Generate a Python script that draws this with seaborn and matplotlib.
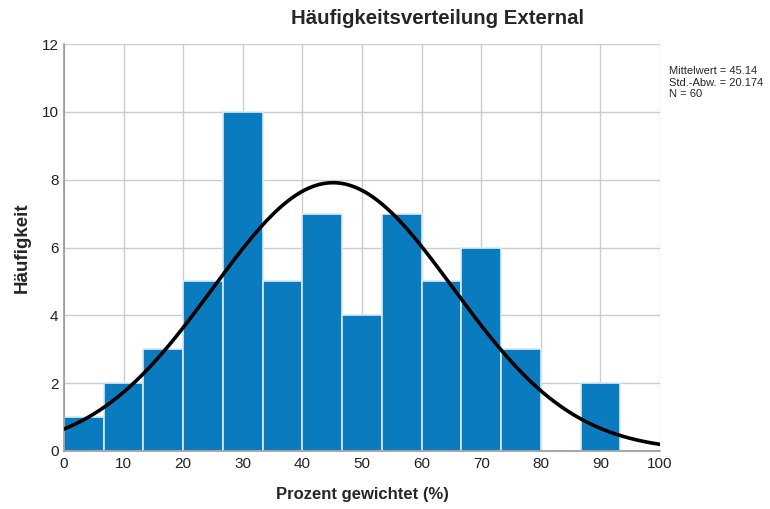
import numpy as np
import pandas as pd
import matplotlib
matplotlib.use("Agg")
import matplotlib.pyplot as plt
import seaborn as sns

# Histogram bins (percent weighted) and frequencies
bin_edges = [0, 6.667, 13.333, 20, 26.667, 33.333, 40, 46.667, 53.333,
             60, 66.667, 73.333, 80, 86.667, 93.333, 100]
counts = [1, 2, 3, 5, 10, 5, 7, 4, 7, 5, 6, 3, 0, 2, 0]

mean_val = 45.14
sd_val = 20.174
n_val = 60

x_ticks = [0, 10, 20, 30, 40, 50, 60, 70, 80, 90, 100]
y_ticks = [0, 2, 4, 6, 8, 10, 12]

sns.set_theme(style="white")
plt.rcParams['font.family'] = ['Liberation Sans', 'DejaVu Sans']

fig = plt.figure(figsize=(7.7, 5.09), dpi=100)
ax = fig.add_axes([64/770, 1 - 451/509, (660 - 64)/770, (451 - 44)/509])

edges = np.array(bin_edges)
centers = (edges[:-1] + edges[1:]) / 2
df = pd.DataFrame({"x": centers, "w": counts})

sns.histplot(data=df, x="x", weights="w", bins=list(bin_edges), ax=ax,
             color="#0A7BBF", alpha=1.0, edgecolor="#DDEBF5", linewidth=1.2,
             zorder=2)

# Normal curve scaled to the counts
bw = edges[1] - edges[0]
xs = np.linspace(0, 100, 400)
ys = n_val * bw * np.exp(-0.5 * ((xs - mean_val) / sd_val) ** 2) / (sd_val * np.sqrt(2 * np.pi))
sns.lineplot(x=xs, y=ys, ax=ax, color="black", linewidth=2.6, zorder=3)

ax.set_xlim(0, 100)
ax.set_ylim(0, 12)
ax.set_xticks(x_ticks)
ax.set_yticks(y_ticks)
ax.grid(True, color="#CCCCCC", linewidth=1.0, zorder=0)
ax.set_axisbelow(True)
for s in ["top", "right"]:
    ax.spines[s].set_visible(False)
for s in ["left", "bottom"]:
    ax.spines[s].set_color("#999999")
    ax.spines[s].set_linewidth(1.2)
ax.tick_params(axis="both", labelsize=11, colors="#222222", length=0, pad=4)

ax.set_xlabel("Prozent gewichtet (%)", fontsize=12, fontweight="bold", labelpad=12)
ax.set_ylabel("Häufigkeit", fontsize=13.5, fontweight="bold", labelpad=8)

fig.text(438/770, 1 - 19/509, "Häufigkeitsverteilung External", ha="center", va="center",
         fontsize=14.7, fontweight="bold")
fig.text(669/770, 1 - 66/509,
         f"Mittelwert = {mean_val}\nStd.-Abw. = {sd_val}\nN = {n_val}",
         ha="left", va="top", fontsize=8.0, linespacing=1.2)

fig.savefig("out.png", dpi=100)
